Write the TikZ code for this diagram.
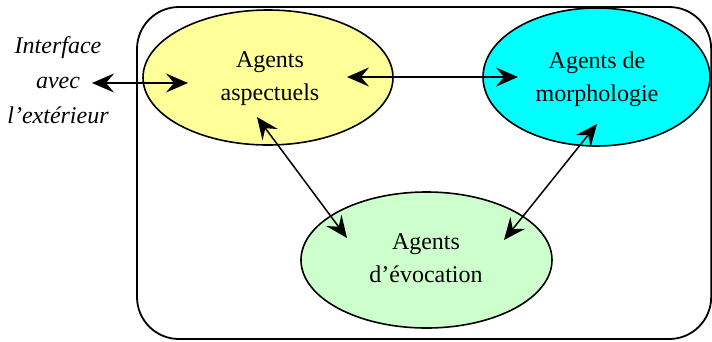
\documentclass[tikz,border=0pt]{standalone}
\usepackage{fontspec}
\setmainfont{Liberation Serif}
\usetikzlibrary{arrows.meta,shapes.geometric}
\definecolor{agyellow}{RGB}{255,255,153}
\definecolor{agcyan}{RGB}{0,255,255}
\definecolor{aggreen}{RGB}{204,255,204}
\begin{document}
\begin{tikzpicture}[x=1pt,y=-1pt,
  agent/.style={ellipse,draw=black,line width=1.6pt,inner sep=0pt},
  lbl/.style={font=\fontsize{24}{33}\selectfont,align=center},
  link/.style={line width=1.5pt,{Stealth[length=22pt,width=19pt,inset=8pt]}-{Stealth[length=22pt,width=19pt,inset=8pt]}}]
\useasboundingbox (0,0) rectangle (712,341);
\draw[line width=1.8pt,rounded corners=42pt] (137,7) rectangle (711.2,339);
\node[agent,fill=agyellow,minimum width=250pt,minimum height=135pt] (asp) at (268,77.5) {};
\node[agent,fill=agcyan,minimum width=227pt,minimum height=138pt] (mor) at (596.5,77) {};
\node[agent,fill=aggreen,minimum width=251pt,minimum height=136pt] (evo) at (426.5,260) {};
\node[lbl] (asptxt) at (270,79) {Agents\\aspectuels};
\node[lbl] (mortxt) at (597,79) {Agents de\\morphologie};
\node[lbl] (evotxt) at (426,258) {Agents\\d’évocation};
\node[lbl,font=\fontsize{24}{35}\selectfont\itshape] (ext) at (58,80) {Interface\\avec\\l’extérieur};
\coordinate (ifL) at (92,83);
\coordinate (ifR) at (188,83);
\coordinate (amL) at (347,77);
\coordinate (amR) at (518,77);
\coordinate (aeU) at (257,117);
\coordinate (aeD) at (347,238);
\coordinate (meU) at (597,124);
\coordinate (meD) at (504,240);
\draw[link] (ifL) -- (ifR);
\draw[link] (amL) -- (amR);
\draw[link] (aeU) -- (aeD);
\draw[link] (meU) -- (meD);
\end{tikzpicture}
\end{document}
